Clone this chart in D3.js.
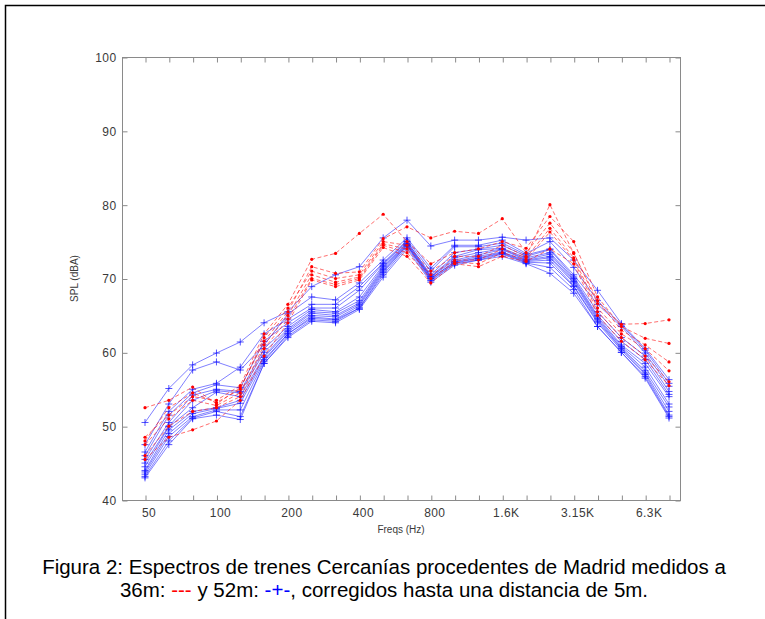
<!DOCTYPE html>
<html>
<head>
<meta charset="utf-8">
<script src="https://cdn.jsdelivr.net/npm/d3@7/dist/d3.min.js"></script>
<style>
  body { margin: 0; background: #fff; }
  svg { display: block; }
</style>
</head>
<body>
<svg id="chart" width="765" height="619"></svg>
<script>
// third-octave bands, 50 Hz .. 8 kHz
const bands = ['50', '63', '80', '100', '125', '160', '200', '250', '315', '400', '500', '630',
  '800', '1K', '1.25K', '1.6K', '2K', '2.5K', '3.15K', '4K', '5K', '6.3K', '8K']
const labelBands = [0, 3, 6, 9, 12, 15, 18, 21]
const labelText = ['50', '100', '200', '400', '800', '1.6K', '3.15K', '6.3K']
const yTicks = [40, 50, 60, 70, 80, 90, 100]

// 36 m measurements (red)
const series36m = [
  [48.5, 51.5, 54.0, 53.5, 55.5, 62.5, 66.5, 72.6, 73.4, 76.1, 78.7, 75.0, 72.0, 73.5, 74.0, 75.0, 74.1, 78.4, 75.0, 67.5, 63.5, 61.9, 61.2],
  [52.5, 53.5, 55.3, 53.0, 55.2, 61.5, 65.5, 71.6, 70.7, 70.9, 75.4, 77.0, 75.5, 76.4, 76.1, 78.1, 73.5, 77.5, 73.5, 66.6, 63.8, 63.9, 64.4],
  [48.0, 52.5, 54.5, 53.2, 55.0, 62.0, 66.0, 71.0, 70.0, 70.5, 75.0, 74.5, 71.0, 73.0, 73.0, 74.5, 73.0, 80.0, 73.4, 67.0, 63.0, 61.0, 58.7],
  [47.5, 51.0, 53.5, 52.8, 54.5, 61.0, 65.0, 70.5, 69.5, 70.2, 74.7, 74.0, 70.5, 72.5, 72.5, 74.0, 72.8, 76.8, 72.8, 66.0, 62.5, 60.5, 57.5],
  [46.0, 50.0, 52.0, 52.5, 54.0, 60.5, 64.5, 70.0, 69.2, 70.0, 74.5, 73.5, 70.0, 72.2, 72.0, 73.5, 72.5, 76.3, 72.5, 65.5, 62.0, 59.5, 56.0],
  [45.5, 48.5, 49.5, 50.7, 53.5, 59.5, 64.0, 69.8, 68.9, 69.8, 74.2, 73.0, 69.4, 72.0, 71.6, 73.0, 72.3, 74.0, 72.0, 65.0, 61.5, 59.0, 55.5]
]

// 52 m measurements (blue)
const series52m = [
  [50.5, 55.1, 58.3, 59.9, 61.4, 64.0, 65.5, 68.9, 70.5, 71.6, 75.5, 77.9, 74.4, 75.2, 75.2, 75.6, 75.2, 75.5, 72.5, 68.4, 63.9, 60.5, 56.3],
  [47.5, 53.0, 57.6, 58.7, 57.6, 61.0, 65.2, 67.5, 67.1, 69.4, 72.5, 75.5, 71.4, 74.5, 74.5, 75.2, 73.4, 75.0, 71.5, 67.0, 63.7, 60.3, 55.8],
  [46.5, 52.0, 55.0, 55.8, 58.0, 62.5, 64.5, 66.5, 66.5, 68.9, 72.1, 75.2, 71.0, 74.3, 74.3, 74.8, 73.2, 74.0, 70.5, 66.5, 63.5, 59.9, 55.4],
  [46.0, 51.5, 54.5, 55.6, 55.2, 61.5, 64.0, 66.0, 66.0, 68.4, 72.0, 75.0, 70.5, 73.5, 74.0, 74.5, 73.0, 73.9, 70.2, 65.5, 62.0, 59.5, 54.7],
  [45.5, 50.5, 54.2, 55.0, 54.7, 60.5, 63.5, 65.8, 65.5, 67.5, 71.8, 75.0, 70.3, 73.0, 73.9, 74.1, 72.8, 73.5, 70.0, 65.0, 61.5, 59.0, 54.3],
  [45.0, 50.0, 53.5, 54.8, 54.5, 60.0, 63.2, 65.5, 65.3, 67.0, 71.6, 74.8, 70.2, 72.8, 73.5, 74.0, 72.6, 73.3, 69.8, 64.8, 61.0, 58.5, 54.0],
  [44.5, 49.9, 52.5, 54.6, 54.0, 59.5, 63.0, 65.3, 65.0, 66.7, 71.4, 74.7, 70.2, 72.5, 73.2, 73.9, 72.5, 73.0, 69.6, 64.6, 60.8, 58.0, 53.0],
  [44.0, 49.5, 52.0, 52.5, 53.5, 59.3, 62.8, 65.0, 64.8, 66.5, 71.2, 74.6, 70.0, 72.3, 73.0, 73.6, 72.4, 72.8, 69.4, 64.4, 60.6, 57.5, 52.6],
  [43.8, 49.0, 51.7, 52.4, 53.1, 59.0, 62.5, 64.8, 64.5, 66.3, 71.0, 74.5, 70.0, 72.2, 72.8, 73.5, 72.3, 72.5, 69.0, 64.2, 60.5, 57.2, 52.0],
  [43.5, 48.6, 51.3, 52.2, 52.2, 58.8, 62.5, 64.6, 64.4, 66.0, 70.8, 74.5, 69.8, 72.1, 72.7, 73.4, 72.2, 72.1, 68.9, 64.0, 60.3, 57.0, 51.5],
  [43.2, 48.0, 51.1, 52.0, 51.3, 58.5, 62.2, 64.4, 64.2, 66.0, 70.5, 74.3, 69.7, 72.0, 72.5, 73.3, 72.1, 71.5, 68.5, 63.5, 60.0, 56.7, 51.3],
  [43.0, 47.5, 51.0, 51.5, 50.9, 58.5, 62.0, 64.2, 64.0, 65.8, 70.2, 74.0, 69.5, 71.8, 72.5, 73.0, 72.0, 70.7, 68.0, 63.5, 60.0, 56.5, 51.1]
]

const caption1 = 'Figura 2: Espectros de trenes Cercanías procedentes de Madrid medidos a'
const caption2 = ['36m: ', '---', ' y 52m: ', '-+-', ', corregidos hasta una distancia de 5m.']

const svg = d3.select('#chart')
const box = { left: 122, right: 680, top: 57, bottom: 500 }

// figure frame
svg.append('path')
  .attr('d', 'M5.5,619 V5.5 H765')
  .attr('fill', 'none')
  .attr('stroke', '#000')
  .attr('stroke-width', 1.5)

const x = d3.scaleLinear().domain([0, bands.length - 1]).range([145, 669])
const y = d3.scaleLinear().domain([40, 100]).range([box.bottom, box.top])

const axisColor = '#8a8a8a'
const labelColor = '#3a3a3a'
const tickLen = 5

// axes, ticks pointing into the plot on all four sides
const bottomAxis = d3.axisBottom(x).tickValues(d3.range(bands.length)).tickSize(-tickLen).tickFormat('')
const topAxis = d3.axisTop(x).tickValues(d3.range(bands.length)).tickSize(-tickLen).tickFormat('')
const leftAxis = d3.axisLeft(y).tickValues(yTicks).tickSize(-tickLen).tickPadding(6)
const rightAxis = d3.axisRight(y).tickValues(yTicks).tickSize(-tickLen).tickFormat('')

svg.append('rect')
  .attr('x', box.left + 0.5).attr('y', box.top + 0.5)
  .attr('width', box.right - box.left).attr('height', box.bottom - box.top)
  .attr('fill', 'none').attr('stroke', axisColor)

function styleAxis(g) {
  g.select('.domain').remove()
  g.selectAll('.tick line').attr('stroke', axisColor)
  g.selectAll('.tick text')
    .attr('fill', labelColor)
    .style('font-family', 'Liberation Sans, Arial, sans-serif')
    .style('font-size', '12px')
    .style('letter-spacing', '0.4px')
}

svg.append('g').attr('transform', `translate(0.5,${box.bottom + 0.5})`).call(bottomAxis).call(styleAxis)
svg.append('g').attr('transform', `translate(0.5,${box.top + 0.5})`).call(topAxis).call(styleAxis)
svg.append('g').attr('transform', `translate(${box.left + 0.5},0.5)`).call(leftAxis).call(styleAxis)
svg.append('g').attr('transform', `translate(${box.right + 0.5},0.5)`).call(rightAxis).call(styleAxis)

// frequency labels under selected bands
svg.append('g')
  .selectAll('text')
  .data(labelBands)
  .join('text')
  .attr('x', (d) => x(d) + 4)
  .attr('y', box.bottom + 17)
  .attr('text-anchor', 'middle')
  .attr('fill', labelColor)
  .style('font-family', 'Liberation Sans, Arial, sans-serif')
  .style('font-size', '12px')
  .style('letter-spacing', '0.4px')
  .text((d, i) => labelText[i])

// axis titles
svg.append('text')
  .attr('x', 401).attr('y', box.bottom + 33)
  .attr('text-anchor', 'middle')
  .attr('fill', labelColor)
  .style('font-family', 'Liberation Sans, Arial, sans-serif')
  .style('font-size', '10px')
  .text('Freqs (Hz)')

svg.append('text')
  .attr('transform', `translate(78,${(box.top + box.bottom) / 2}) rotate(-90)`)
  .attr('text-anchor', 'middle')
  .attr('fill', labelColor)
  .style('font-family', 'Liberation Sans, Arial, sans-serif')
  .style('font-size', '10px')
  .text('SPL (dBA)')

const line = d3.line().x((d, i) => x(i)).y((d) => y(d))

// blue series: solid lines with + markers
const blue = svg.append('g')
series52m.forEach((s) => {
  blue.append('path')
    .attr('d', line(s))
    .attr('fill', 'none')
    .attr('stroke', '#2a2aff')
    .attr('stroke-opacity', 0.75)
    .attr('stroke-width', 0.8)
  blue.selectAll(null)
    .data(s)
    .join('path')
    .attr('d', (d, i) => `M${x(i) - 3.5},${y(d)}h7M${x(i)},${y(d) - 3.5}v7`)
    .attr('stroke', '#1010ff')
    .attr('stroke-opacity', 0.8)
    .attr('stroke-width', 0.9)
})

// red series: dashed lines with dot markers
const red = svg.append('g')
series36m.forEach((s) => {
  red.append('path')
    .attr('d', line(s))
    .attr('fill', 'none')
    .attr('stroke', '#ff1a1a')
    .attr('stroke-opacity', 0.8)
    .attr('stroke-width', 0.8)
    .attr('stroke-dasharray', '4,2.5')
  red.selectAll(null)
    .data(s)
    .join('circle')
    .attr('cx', (d, i) => x(i))
    .attr('cy', (d) => y(d))
    .attr('r', 1.6)
    .attr('fill', '#ff0000')
})

// caption
const cap = svg.append('g')
  .style('font-family', 'Liberation Sans, Arial, sans-serif')
  .style('font-size', '20.5px')
  .attr('fill', '#000')

cap.append('text')
  .attr('x', 384).attr('y', 574)
  .attr('text-anchor', 'middle')
  .text(caption1)

const capColors = ['#000', '#ff0000', '#000', '#0000ff', '#000']
cap.append('text')
  .attr('x', 384).attr('y', 597)
  .attr('text-anchor', 'middle')
  .selectAll('tspan')
  .data(caption2)
  .join('tspan')
  .attr('fill', (d, i) => capColors[i])
  .text((d) => d)
</script>
</body>
</html>
